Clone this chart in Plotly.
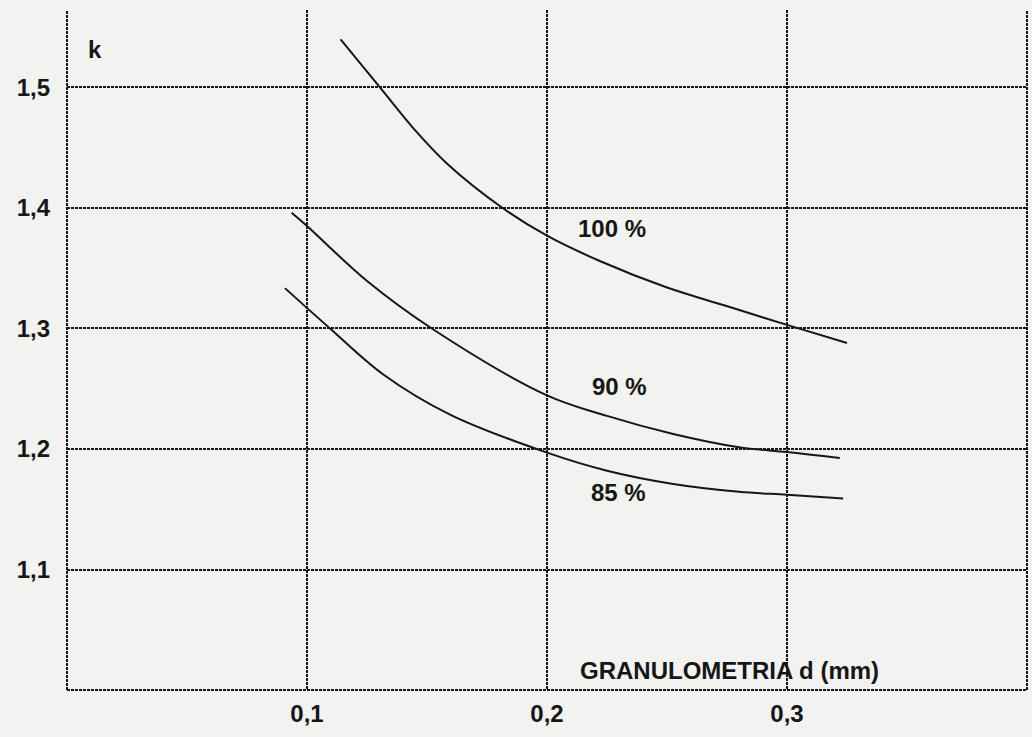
import plotly.graph_objects as go

# --- data ---
x100 = [0.114, 0.1304, 0.1446, 0.1585, 0.1815, 0.200, 0.222, 0.250, 0.2775, 0.300, 0.325]
y100 = [1.540, 1.500, 1.4655, 1.4365, 1.400, 1.377, 1.356, 1.334, 1.317, 1.303, 1.288]

x90 = [0.0936, 0.100, 0.1249, 0.152, 0.200, 0.225, 0.2526, 0.280, 0.300, 0.322]
y90 = [1.396, 1.385, 1.3396, 1.300, 1.2445, 1.2275, 1.2125, 1.2015, 1.1975, 1.1925]

x85 = [0.0908, 0.1096, 0.1318, 0.1596, 0.200, 0.225, 0.2526, 0.280, 0.300, 0.3234]
y85 = [1.3335, 1.300, 1.2618, 1.2285, 1.197, 1.182, 1.171, 1.1645, 1.162, 1.159]

curve_labels = ["100 %", "90 %", "85 %"]
label_x = [0.227, 0.2304, 0.2296]
label_y = [1.383, 1.252, 1.1637]

x_tickvals = [0.1, 0.2, 0.3]
x_ticktext = ["<b>0,1</b>", "<b>0,2</b>", "<b>0,3</b>"]
y_tickvals = [1.1, 1.2, 1.3, 1.4, 1.5]
y_ticktext = ["<b>1,1</b>", "<b>1,2</b>", "<b>1,3</b>", "<b>1,4</b>", "<b>1,5</b>"]

FONT = "Liberation Sans, Arial, sans-serif"
INK = "#161616"
PAPER = "#f2f2f0"
FS = 24

fig = go.Figure()
for xs, ys in [(x100, y100), (x90, y90), (x85, y85)]:
    fig.add_trace(go.Scatter(x=xs, y=ys, mode="lines",
                             line=dict(color=INK, width=2, shape="spline", smoothing=1.0),
                             showlegend=False, hoverinfo="skip"))

for t, lx, ly in zip(curve_labels, label_x, label_y):
    fig.add_annotation(x=lx, y=ly, text="<b>" + t + "</b>", showarrow=False,
                       xanchor="center", yanchor="middle",
                       font=dict(family=FONT, size=FS, color=INK))

fig.add_annotation(x=0.276, y=1.0166, text="<b>GRANULOMETRIA d (mm)</b>", showarrow=False,
                   xanchor="center", yanchor="middle",
                   font=dict(family=FONT, size=FS, color=INK))
fig.add_annotation(xref="paper", yref="paper", x=0.0292, y=0.9412, text="<b>k</b>",
                   showarrow=False, xanchor="center", yanchor="middle",
                   font=dict(family=FONT, size=FS, color=INK))

# frame: left, bottom, right (dotted, like the scan); no top line
for x0, x1, y0, y1 in [(0, 0, 0, 1), (0, 1, 0, 0), (1, 1, 0, 1)]:
    fig.add_shape(type="line", xref="paper", yref="paper", x0=x0, x1=x1, y0=y0, y1=y1,
                  line=dict(color=INK, width=2, dash="3px,1px"))

fig.update_xaxes(range=[0, 0.4], tickvals=x_tickvals, ticktext=x_ticktext,
                 showgrid=True, gridcolor=INK, gridwidth=1.6, griddash="3px,1px",
                 showline=False, zeroline=False, ticks="", ticklabelstandoff=7,
                 tickfont=dict(family=FONT, size=FS, color=INK))
fig.update_yaxes(range=[1.0, 1.5643], tickvals=y_tickvals, ticktext=y_ticktext,
                 showgrid=True, gridcolor=INK, gridwidth=1.6, griddash="3px,1px",
                 showline=False, zeroline=False, ticks="", ticklabelstandoff=16,
                 tickfont=dict(family=FONT, size=FS, color=INK))

fig.update_layout(width=1032, height=737,
                  margin=dict(l=67, r=5, t=10, b=47),
                  paper_bgcolor=PAPER, plot_bgcolor=PAPER,
                  font=dict(family=FONT, color=INK))

fig.write_html("out.html")
